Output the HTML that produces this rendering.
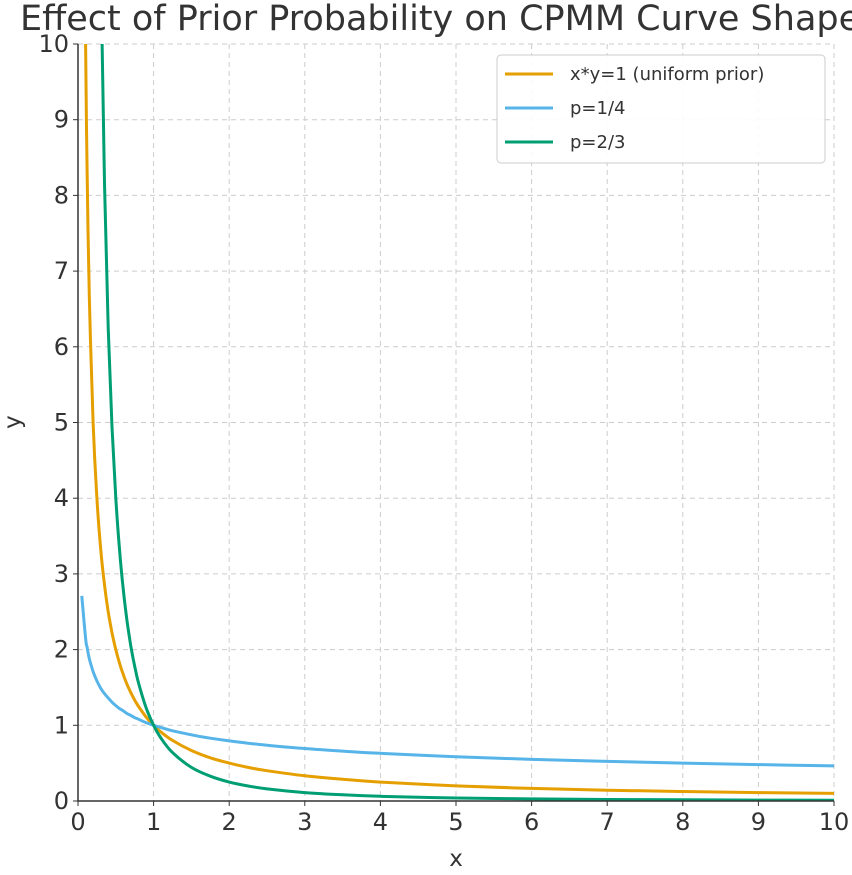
<!DOCTYPE html>
<html><head><meta charset="utf-8"><style>
body{margin:0;background:#fff;width:852px;height:870px;overflow:hidden}
svg{font-family:"DejaVu Sans","Liberation Sans",sans-serif}
</style></head><body>
<svg id="chart" width="852" height="870">
<text x="20" y="30" font-size="35" fill="#333">Effect of Prior Probability on CPMM Curve Shape</text>
<defs><clipPath id="pc"><rect x="78" y="44" width="756" height="757"/></clipPath></defs>
<g id="grid"></g><g id="series" clip-path="url(#pc)"></g><g id="axes"></g>
<g>
<rect x="497" y="55" width="328" height="108" rx="4" fill="#fff" fill-opacity="0.9" stroke="#ccc"/>
<line x1="505" y1="74" x2="553" y2="74" stroke="#E69F00" stroke-width="3"/>
<text x="570" y="80" font-size="18" fill="#333">x*y=1 (uniform prior)</text>
<line x1="505" y1="108" x2="553" y2="108" stroke="#56B4E9" stroke-width="3"/>
<text x="570" y="114" font-size="18" fill="#333">p=1/4</text>
<line x1="505" y1="142" x2="553" y2="142" stroke="#009E73" stroke-width="3"/>
<text x="570" y="148" font-size="18" fill="#333">p=2/3</text>
</g>
<text x="456" y="866" font-size="23" fill="#333" text-anchor="middle">x</text>
<text x="0" y="0" font-size="23" fill="#333" text-anchor="middle" transform="translate(20,422) rotate(-90)">y</text>
</svg>
<script>
const xs=[0.05,0.1,0.12,0.15,0.2,0.25,0.3,0.35,0.4,0.45,0.5,0.55,0.6,0.65,0.7,0.75,0.8,0.9,1,1.1,1.25,1.5,1.75,2,2.25,2.5,3,3.5,4,5,6,7,8,9,10];
const yUniform=[20,10,8.33,6.67,5,4,3.33,2.857,2.5,2.222,2,1.818,1.667,1.538,1.429,1.333,1.25,1.111,1,0.909,0.8,0.667,0.571,0.5,0.444,0.4,0.333,0.286,0.25,0.2,0.167,0.143,0.125,0.111,0.1];
const yP14=[2.71,2.15,2.03,1.88,1.71,1.587,1.49,1.419,1.36,1.305,1.26,1.221,1.19,1.154,1.13,1.101,1.08,1.036,1,0.969,0.928,0.874,0.830,0.794,0.763,0.737,0.693,0.659,0.63,0.585,0.55,0.523,0.5,0.481,0.464];
const yP23=[400,100,69.4,44.4,25,16,11.1,8.16,6.25,4.94,4,3.31,2.78,2.37,2.04,1.78,1.56,1.235,1,0.826,0.64,0.444,0.327,0.25,0.198,0.16,0.111,0.0816,0.0625,0.04,0.028,0.02,0.016,0.012,0.01];
const xTicks=[0,1,2,3,4,5,6,7,8,9,10];
const yTicks=[0,1,2,3,4,5,6,7,8,9,10];
const NS="http://www.w3.org/2000/svg";
const X=v=>78+v*75.6, Y=v=>801-v*75.7;
function mk(t,a,p){const e=document.createElementNS(NS,t);for(const k in a)e.setAttribute(k,a[k]);p.appendChild(e);return e;}
const grid=document.getElementById('grid'),axes=document.getElementById('axes'),ser=document.getElementById('series');
xTicks.forEach(t=>{
 const g=mk('line',{x1:X(t),x2:X(t),y1:Y(10),y2:Y(0),stroke:'#ccc','stroke-dasharray':'5,4'},grid);
 
 
 const l=mk('text',{x:X(t),y:830,'font-size':24,fill:'#333','text-anchor':'middle'},axes);l.textContent=t;
 
 
 mk('line',{x1:X(t),x2:X(t),y1:801,y2:806,stroke:'#333'},axes);
});
yTicks.forEach(t=>{
 const g=mk('line',{x1:X(0),x2:X(10),y1:Y(t),y2:Y(t),stroke:'#ccc','stroke-dasharray':'5,4'},grid);
 
 
 const l=mk('text',{x:69,y:Y(t)+8,'font-size':24,fill:'#333','text-anchor':'end'},axes);l.textContent=t;
 
 
 mk('line',{x1:73,x2:78,y1:Y(t),y2:Y(t),stroke:'#333'},axes);
});
const ax=mk('path',{d:`M78,44V801H834`,fill:'none',stroke:'#333','stroke-width':1.5},axes);


function line(ys,c,name,start){
 const pts=[];xs.forEach((x,i)=>{if(x<start)return;pts.push([X(x),Y(Math.min(ys[i],50))]);});
 let d='M'+pts[0][0].toFixed(1)+','+pts[0][1].toFixed(1);
 for(let i=0;i<pts.length-1;i++){
  const p0=pts[Math.max(i-1,0)],p1=pts[i],p2=pts[i+1],p3=pts[Math.min(i+2,pts.length-1)];
  const c1=[p1[0]+(p2[0]-p0[0])/6,p1[1]+(p2[1]-p0[1])/6],c2=[p2[0]-(p3[0]-p1[0])/6,p2[1]-(p3[1]-p1[1])/6];
  d+=`C${c1[0].toFixed(1)},${c1[1].toFixed(1)} ${c2[0].toFixed(1)},${c2[1].toFixed(1)} ${p2[0].toFixed(1)},${p2[1].toFixed(1)}`;
 }
 const p=mk('path',{d,fill:'none',stroke:c,'stroke-width':3},ser);
 
 
}
line(yUniform,'#E69F00','series-uniform',0.1);
line(yP14,'#56B4E9','series-p14',0.05);
line(yP23,'#009E73','series-p23',0.25);
</script>
</body></html>
